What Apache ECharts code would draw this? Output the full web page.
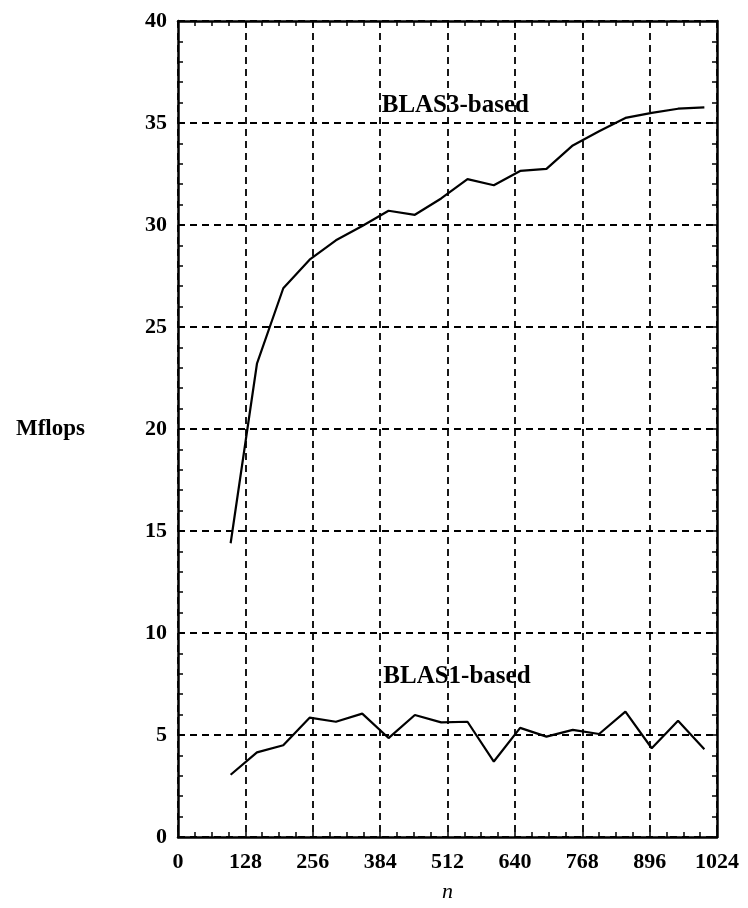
<!DOCTYPE html>
<html>
<head>
<meta charset="utf-8">
<script src="https://cdn.jsdelivr.net/npm/echarts@6/dist/echarts.min.js"></script>
<style>html,body{margin:0;padding:0;background:#fff}#c{width:748px;height:908px}</style>
</head>
<body>
<div id="c"></div>
<script>
var nValues = [100,150,200,250,300,350,400,450,500,550,600,650,700,750,800,850,900,950,1000];
var blas3 = [14.4,23.2,26.9,28.3,29.25,29.95,30.7,30.5,31.3,32.25,31.95,32.65,32.75,33.9,34.6,35.25,35.5,35.7,35.77];
var blas1 = [3.05,4.15,4.5,5.85,5.65,6.05,4.85,5.98,5.62,5.65,3.7,5.35,4.92,5.25,5.05,6.15,4.35,5.7,4.3];
var xTicks = [0,128,256,384,512,640,768,896,1024];
var yTicks = [0,5,10,15,20,25,30,35,40];
var labelNames = ['BLAS3-based','BLAS1-based'];
var labelPos = [[387,35.85],[390,7.85]];

var FONT = 'Liberation Serif';
var chart = echarts.init(document.getElementById('c'), null, {renderer:'canvas'});
function pairs(xs, ys){ return xs.map(function(x,i){ return [x, ys[i]]; }); }
var axisLineStyle = {show:true, onZero:false, lineStyle:{color:'#000', width:2.5}};
var tick = {show:true, inside:true, length:5, lineStyle:{color:'#000', width:1.5}};
var minor = function(k){ return {show:true, splitNumber:k, length:5, lineStyle:{color:'#000', width:1.5}}; };
var grid = {show:true, lineStyle:{color:'#000', width:1.8, type:[7,5]}};
var fmt = function(v){ return String(v); };
chart.setOption({
  animation:false,
  backgroundColor:'#fff',
  grid:{left:178, right:31, top:21, bottom:66},
  xAxis:[{
    type:'value', position:'bottom', min:xTicks[0], max:xTicks[xTicks.length-1], interval:128,
    name:'n', nameLocation:'middle', nameGap:44,
    nameTextStyle:{fontFamily:FONT, fontStyle:'italic', fontSize:22, color:'#000'},
    axisLine:axisLineStyle, axisTick:tick, minorTick:minor(4),
    splitLine:grid,
    axisLabel:{fontFamily:FONT, fontWeight:'bold', fontSize:22, color:'#000', margin:14, formatter:fmt}
  },{
    type:'value', position:'top', min:0, max:1024, interval:128,
    axisLine:axisLineStyle, axisTick:tick, axisLabel:{show:false}, minorTick:minor(4),
    splitLine:{show:false}
  }],
  yAxis:[{
    type:'value', position:'left', min:yTicks[0], max:yTicks[yTicks.length-1], interval:5,
    name:'Mflops', nameLocation:'middle', nameRotate:0, nameGap:93,
    nameTextStyle:{fontFamily:FONT, fontWeight:'bold', fontSize:23, color:'#000', align:'right'},
    axisLine:axisLineStyle, axisTick:tick, minorTick:minor(5),
    splitLine:grid,
    axisLabel:{fontFamily:FONT, fontWeight:'bold', fontSize:22, color:'#000', margin:11, formatter:fmt}
  },{
    type:'value', position:'right', min:0, max:40, interval:5,
    axisLine:axisLineStyle, axisTick:tick, axisLabel:{show:false}, minorTick:minor(5),
    splitLine:{show:false}
  }],
  series:[
    {type:'line', data:pairs(nValues, blas3), symbol:'none', lineStyle:{color:'#000', width:2.2}, z:5},
    {type:'line', data:pairs(nValues, blas1), symbol:'none', lineStyle:{color:'#000', width:2.2}, z:5},
    {type:'scatter', symbolSize:0, z:6, silent:true, itemStyle:{opacity:1, color:'#000'},
     data:labelPos.map(function(p,i){ return {name:labelNames[i], value:p}; }),
     label:{show:true, position:'right', distance:0, formatter:'{b}', textBorderWidth:0, opacity:1,
            fontFamily:FONT, fontWeight:'bold', fontSize:25, color:'#000'}}
  ]
});
</script>
</body>
</html>
